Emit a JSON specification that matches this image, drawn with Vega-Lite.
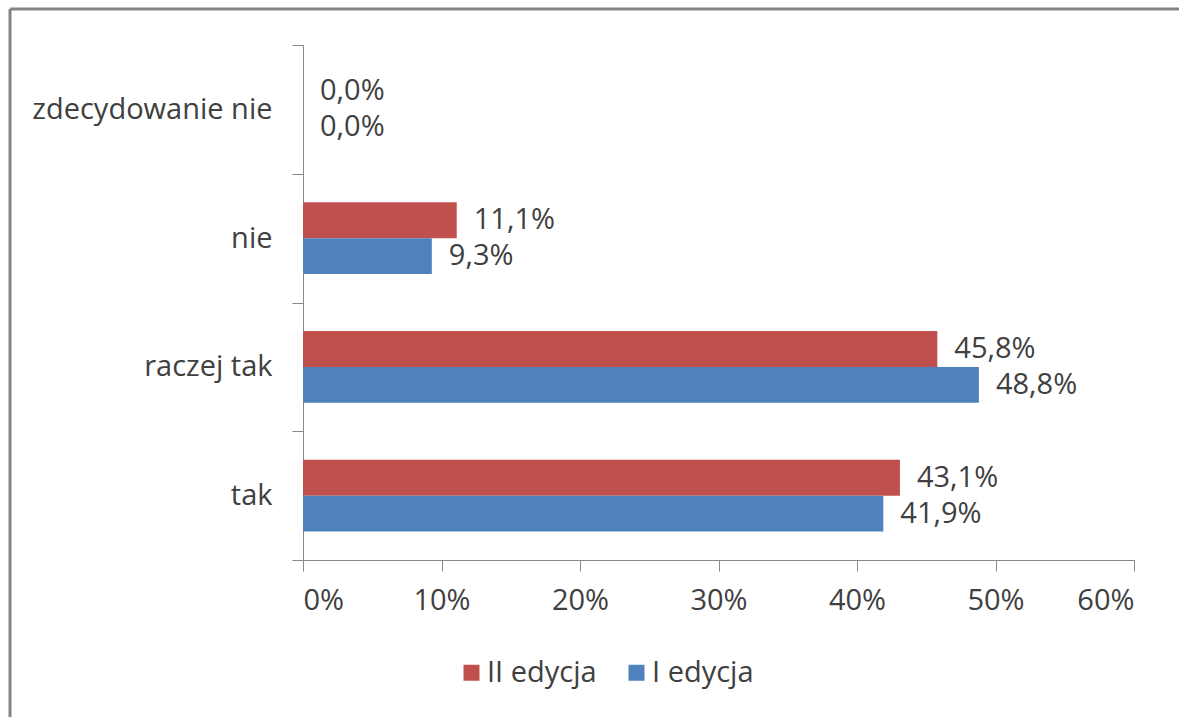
{
  "$schema": "https://vega.github.io/schema/vega-lite/v6.json",
  "width": 1170,
  "height": 708,
  "autosize": {"type": "none"},
  "padding": {"left": 10, "top": 9, "right": 0, "bottom": 0},
  "background": "white",
  "config": {
    "view": {"stroke": "#858585", "strokeWidth": 3, "strokeDash": [1169, 1879, 708, 0]},
    "locale": {"number": {"decimal": ",", "thousands": " ", "grouping": [3], "currency": ["", " zł"]}},
    "font": "Open Sans",
    "axis": {"labelFont": "Open Sans", "labelColor": "#404040", "labelFontSize": 29, "domainColor": "#878787", "tickColor": "#878787", "grid": false, "title": null, "labelLimit": 0}
  },
  "data": {
    "values": [
      {"kategoria": "zdecydowanie nie", "edycja": "II edycja", "wartosc": 0.0},
      {"kategoria": "zdecydowanie nie", "edycja": "I edycja", "wartosc": 0.0},
      {"kategoria": "nie", "edycja": "II edycja", "wartosc": 0.111},
      {"kategoria": "nie", "edycja": "I edycja", "wartosc": 0.093},
      {"kategoria": "raczej tak", "edycja": "II edycja", "wartosc": 0.458},
      {"kategoria": "raczej tak", "edycja": "I edycja", "wartosc": 0.488},
      {"kategoria": "tak", "edycja": "II edycja", "wartosc": 0.431},
      {"kategoria": "tak", "edycja": "I edycja", "wartosc": 0.419}
    ]
  },
  "encoding": {
    "y": {
      "field": "kategoria", "type": "nominal",
      "sort": ["zdecydowanie nie", "nie", "raczej tak", "tak"],
      "scale": {"paddingInner": 0, "paddingOuter": 0, "range": [36, 551]},
      "axis": {"tickBand": "extent", "tickSize": 11, "labelPadding": 20, "offset": -293, "title": null}
    },
    "yOffset": {
      "field": "edycja", "type": "nominal",
      "sort": ["II edycja", "I edycja"],
      "scale": {"paddingInner": 0, "paddingOuter": 0.79}
    },
    "x": {
      "field": "wartosc", "type": "quantitative",
      "scale": {"domain": [0, 0.6], "nice": false, "range": [293, 1124]},
      "axis": {"values": [0, 0.1, 0.2, 0.3, 0.4, 0.5, 0.6], "format": ".0%", "tickSize": 11, "labelPadding": 15, "offset": -157, "title": null}
    }
  },
  "layer": [
    {
      "mark": {"type": "bar"},
      "encoding": {
        "color": {
          "field": "edycja", "type": "nominal",
          "scale": {"domain": ["II edycja", "I edycja"], "range": ["#C0504D", "#4F81BD"]},
          "legend": {
            "title": null, "orient": "none", "direction": "horizontal",
            "legendX": 447, "legendY": 649,
            "symbolType": "square", "symbolSize": 256, "symbolStrokeWidth": 0,
            "labelFont": "Open Sans", "labelFontSize": 29, "labelColor": "#404040",
            "columnPadding": 25, "labelOffset": 1
          }
        }
      }
    },
    {
      "mark": {"type": "text", "align": "left", "baseline": "middle", "dx": 17, "font": "Open Sans", "fontSize": 29, "color": "#404040"},
      "encoding": {
        "text": {"field": "wartosc", "type": "quantitative", "format": ".1%"}
      }
    }
  ]
}
